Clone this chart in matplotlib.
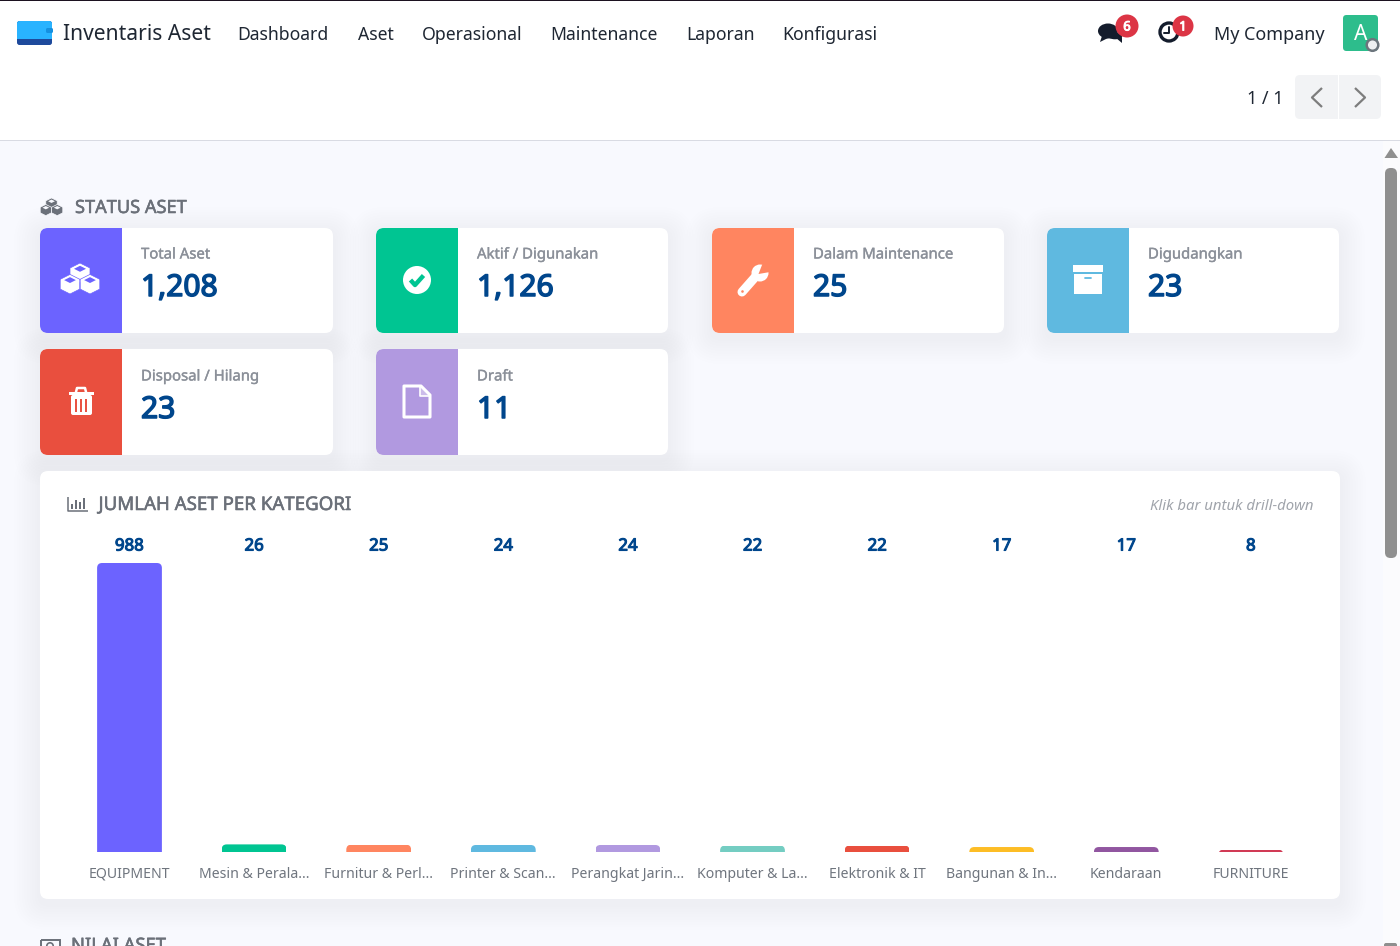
import numpy as np
import matplotlib
matplotlib.use("Agg")
import matplotlib.pyplot as plt
import matplotlib.patheffects as pe
from matplotlib.patches import FancyBboxPatch, Rectangle, Circle, Polygon, Ellipse
from matplotlib.transforms import IdentityTransform

plt.rcParams['font.family'] = ['Noto Sans', 'DejaVu Sans']

# data
nav_items = ["Dashboard", "Aset", "Operasional", "Maintenance", "Laporan", "Konfigurasi"]
card_labels = ["Total Aset", "Aktif / Digunakan", "Dalam Maintenance", "Digudangkan",
               "Disposal / Hilang", "Draft"]
card_values = ["1,208", "1,126", "25", "23", "23", "11"]
card_colors = ["#6c63ff", "#00c592", "#ff8560", "#5fb9e0", "#e94f3e", "#b199e0"]
categories = ["EQUIPMENT", "Mesin & Perala...", "Furnitur & Perl...", "Printer & Scan...",
              "Perangkat Jarin...", "Komputer & La...", "Elektronik & IT", "Bangunan & In...",
              "Kendaraan", "FURNITURE"]
counts = [988, 26, 25, 24, 24, 22, 22, 17, 17, 8]
bar_colors = ["#6c63ff", "#00c592", "#ff8560", "#5fb9e0", "#b199e0",
              "#74cdc2", "#e94f3e", "#fdbd25", "#9156a0", "#d13a55"]

PAGE = "#f8f9fe"
NAVY = "#00468c"
LABEL = "#8b9099"
TITLE = "#6b7079"
DARK = "#1f2733"


def px(size):
    return size * 0.72


def heavy(color, w=0.9):
    # the sans here has no bold face, so thicken with a stroke
    return [pe.withStroke(linewidth=w, foreground=color)]


fig = plt.figure(figsize=(14, 9.46), dpi=100, facecolor=PAGE)
ui = fig.add_axes([0, 0, 1, 1], zorder=0)
ui.set_xlim(0, 1400)
ui.set_ylim(946, 0)
ui.axis("off")


def rbox(x, y, w, h, r, color, z=2, **kw):
    p = FancyBboxPatch((x, y), w, h, boxstyle=f"round,pad=0,rounding_size={r}",
                       fc=color, ec="none", zorder=z, **kw)
    ui.add_patch(p)
    return p


def card_shadow(x, y, w, h):
    # soft shadow as layered boxes
    for i in range(10, 0, -1):
        g = i * 2.6
        rbox(x - g, y + 5 - g, w + 2 * g, h + 2 * g, 8 + g, "#4a58d8", z=1, alpha=0.0038)


def poly(pts, color, z=4, **kw):
    ui.add_patch(Polygon(pts, closed=True, fc=color, ec="none", zorder=z, **kw))


def line(xs, ys, color, lw=1.5, z=4, cap="round"):
    ui.plot(xs, ys, color=color, lw=lw, solid_capstyle=cap, solid_joinstyle="round", zorder=z)


def cube(cx, cy, s, fg, bg, z):
    ui.add_patch(Polygon([(cx, cy - s), (cx + s, cy - s * .5), (cx + s, cy + s * .5), (cx, cy + s),
                          (cx - s, cy + s * .5), (cx - s, cy - s * .5)], closed=True,
                         fc=fg, ec=bg, lw=.5, zorder=z))
    k = .6
    poly([(cx, cy - s * .72), (cx + s * k, cy - s * .42), (cx, cy - s * .12), (cx - s * k, cy - s * .42)],
         bg, z=z)


def cubes(cx, cy, s, fg, bg):
    cube(cx, cy - s * .5, s, fg, bg, 4)
    cube(cx - s, cy + s * .62, s * .98, fg, bg, 5)
    cube(cx + s, cy + s * .62, s * .98, fg, bg, 6)


# nav bar
ui.add_patch(Rectangle((0, 0), 1400, 140, fc="white", ec="none", zorder=1))
ui.add_patch(Rectangle((0, 0), 1400, 1.5, fc="#1c1220", ec="none", zorder=2))
ui.add_patch(Rectangle((0, 140), 1400, 1, fc="#d9dbe3", ec="none", zorder=2))

rbox(17, 21, 35, 24, 2.5, "#1e4a9c")
rbox(17, 21, 35, 18, 2.5, "#29b3ff", z=3)
ui.add_patch(Rectangle((17, 36), 35, 3, fc="#29b3ff", ec="none", zorder=3))
rbox(46, 28, 7, 5, 1.5, "#1590e0", z=4)

ui.text(63, 35, "Inventaris Aset", fontsize=px(21), color=DARK, va="center", zorder=5)
for x, label in zip([237.5, 357.5, 422, 550.5, 686.5, 782.5], nav_items):
    ui.text(x, 35.5, label, fontsize=px(17.6), color=DARK, va="center", zorder=5)

# chat icon
ui.add_patch(Ellipse((1108, 31), 20, 15, fc="#141c2c", ec="none", zorder=4))
poly([(1102, 36), (1100, 42), (1108, 38)], "#141c2c")
ui.add_patch(Ellipse((1115, 36), 16, 8, fc="#141c2c", ec="white", lw=1, zorder=3))
poly([(1116, 38), (1122, 43), (1122, 37)], "#141c2c", z=3)
# clock icon
ui.add_patch(Circle((1169, 32), 9, fc="white", ec="#141c2c", lw=2.4, zorder=4))
line([1169, 1169, 1164], [27, 33, 33], "#141c2c", lw=1.4, z=5)
# badges
for cx, r, txt in [(1127, 11.5, "6"), (1183, 10.5, "1")]:
    ui.add_patch(Circle((cx, 26), r, fc="#dc3545", ec="none", zorder=6))
    ui.text(cx, 27, txt, color="white", fontsize=px(13), ha="center", va="center", zorder=7,
            path_effects=heavy("white", 0.7))
ui.text(1214, 35.5, "My Company", fontsize=px(18), color=DARK, va="center", zorder=5)
rbox(1343, 15, 35, 36, 3.5, "#2dbd8c", z=3)
ui.text(1360.5, 35, "A", color="white", fontsize=px(21), ha="center", va="center", zorder=4)
ui.add_patch(Circle((1372.5, 45), 5.8, fc="#eef0f2", ec="#6c757d", lw=1.8, zorder=5))

# pager
ui.text(1265.5, 99.5, "1 / 1", fontsize=px(18), color=DARK, ha="center", va="center", zorder=5)
rbox(1295, 75, 86, 44, 5, "#f2f3f5", z=3)
ui.add_patch(Rectangle((1338, 75), 1.3, 44, fc="white", ec="none", zorder=4))
line([1322, 1312, 1322], [88, 97.5, 107], "#7d7d7d", lw=1.6, cap="butt")
line([1355, 1365, 1355], [88, 97.5, 107], "#7d7d7d", lw=1.6, cap="butt")

# scrollbar
ui.add_patch(Rectangle((1383, 141), 17, 805, fc="#fbfbfd", ec="none", zorder=1))
poly([(1384.5, 158), (1391, 148), (1398, 158)], "#8f8f8f")
rbox(1385, 168, 12, 390, 5.5, "#8f8f8f", z=3)
rbox(1384, 943, 13, 8, 2, "#8f8f8f", z=3)

# section heading
cubes(51.5, 206.5, 5.7, "#6b7079", PAGE)
ui.text(75, 208, "STATUS ASET", fontsize=px(18.2), color=TITLE, va="center", zorder=5,
        path_effects=heavy(TITLE, 0.4))

# cards
card_x = [40, 376, 712, 1047, 40, 376]
card_y = [228, 228, 228, 228, 349, 349]
card_w = [293, 292, 292, 292, 293, 292]
card_h = [105, 105, 105, 105, 106, 106]
for x, y, w, h in zip(card_x, card_y, card_w, card_h):
    card_shadow(x, y, w, h)
for x, y, w, h, col, lab, val in zip(card_x, card_y, card_w, card_h, card_colors, card_labels, card_values):
    rbox(x, y, w, h, 8, "white", z=2)
    p = rbox(x, y, 100, h, 8, col, z=3)
    p.set_clip_path(Rectangle((x, y), 82, h, transform=ui.transData))
    ui.text(x + 101, y + 27 + (h - 105), lab, fontsize=px(14.9), color=LABEL, va="center", zorder=5,
            path_effects=heavy(LABEL, 0.25))
    ui.text(x + 101, y + 60 + (h - 105), val, fontsize=px(30), color=NAVY, va="center", zorder=5,
            path_effects=heavy(NAVY, 1.1))

# card icons
W = "white"
cubes(80, 278, 10, W, card_colors[0])

ui.add_patch(Circle((417, 280), 14, fc=W, ec="none", zorder=4))
line([410.5, 415, 423.5], [280, 285, 275.5], card_colors[1], lw=3.2, z=5, cap="butt")

line([742, 757], [292, 275], W, lw=6.5)
ui.add_patch(Circle((760, 273), 8.5, fc=W, ec="none", zorder=4))
poly([(758.5, 274), (762, 265), (771, 263), (770, 272)], card_colors[2], z=5)
ui.add_patch(Circle((742.5, 291.5), 1.3, fc=card_colors[2], ec="none", zorder=5))

ui.add_patch(Rectangle((1073, 265), 30, 7, fc=W, ec="none", zorder=4))
ui.add_patch(Rectangle((1074, 274), 28, 19.5, fc=W, ec="none", zorder=4))
line([1085, 1091], [278, 278], card_colors[3], lw=1.3, z=5)

ui.add_patch(Rectangle((69, 392), 25, 3, fc=W, ec="none", zorder=4))
line([76, 77, 85, 86], [392, 388, 388, 392], W, lw=1.8)
rbox(71, 395, 21, 20, 2, W, z=4)
for lx in [76, 81, 86]:
    line([lx, lx], [398.5, 412], card_colors[4], lw=1.4, z=5, cap="butt")

ui.add_patch(Polygon([(404, 386), (421, 386), (430, 395), (430, 417), (404, 417)], closed=True,
                     fc="none", ec=W, lw=2.2, joinstyle="round", zorder=4))
poly([(420, 387), (420, 396), (429, 396)], W, z=4, alpha=.35)
line([420, 420, 430], [386, 396, 396], W, lw=1.2)

# chart panel
card_shadow(40, 471, 1300, 428)
rbox(40, 471, 1300, 428, 8, "white", z=2)
# bar chart icon
line([67.5, 67.5, 87.5], [497, 510.5, 510.5], TITLE, lw=1.1, cap="butt")
for lx, top in zip([71, 75, 79, 83], [504, 500, 502, 498]):
    ui.add_patch(Rectangle((lx, top), 2.4, 509 - top, fc=TITLE, ec="none", zorder=4))
ui.text(98.5, 505, "JUMLAH ASET PER KATEGORI", fontsize=px(18.7), color=TITLE, va="center", zorder=5,
        path_effects=heavy(TITLE, 0.4))
ui.text(1313, 506, "Klik bar untuk drill-down", fontsize=px(14.9), color="#a0a4ab", style="italic",
        ha="right", va="center", zorder=5)

# bars
chart_left, chart_right, chart_top, chart_base = 67.2, 1313.2, 563, 852
ax = fig.add_axes([chart_left / 1400, 1 - chart_base / 946,
                   (chart_right - chart_left) / 1400, (chart_base - chart_top) / 946], zorder=2)
ax.patch.set_alpha(0)
ax.set_xlim(-0.5, len(counts) - 0.5)
ax.set_ylim(0, max(counts))
for s in ax.spines.values():
    s.set_visible(False)
bars = ax.bar(range(len(counts)), counts, width=0.52, color=bar_colors, linewidth=0)
ax.set_yticks([])
ax.set_xticks(range(len(counts)))
ax.set_xticklabels(categories, fontsize=px(14.1), color="#6f757e")
ax.tick_params(axis="x", length=0, pad=10.5)
for i, v in enumerate(counts):
    ax.text(i, 1.0 + 16.5 / (chart_base - chart_top), str(v), transform=ax.get_xaxis_transform(),
            ha="center", va="center", fontsize=px(16.8), color=NAVY, path_effects=heavy(NAVY, 0.8))

# rounded top corners, clipped in pixel space
for rect in bars:
    (x0, y0), (x1, y1) = ax.transData.transform([(rect.get_x(), 0),
                                                 (rect.get_x() + rect.get_width(), rect.get_height())])
    clip = FancyBboxPatch((x0, y0 - 10), x1 - x0, y1 - y0 + 10,
                          boxstyle="round,pad=0,rounding_size=5", transform=IdentityTransform())
    rect.set_clip_path(clip)

# next section, cut off by the window
ui.add_patch(Rectangle((40.5, 939.5), 19, 12, fc="none", ec=TITLE, lw=1.4, zorder=4))
ui.add_patch(Circle((50, 946), 3.2, fc="none", ec=TITLE, lw=1.2, zorder=4))
ui.text(71, 951, "NILAI ASET", fontsize=px(18.4), color=TITLE, va="baseline", zorder=5,
        path_effects=heavy(TITLE, 0.4))

fig.savefig("out.png", dpi=100, facecolor=fig.get_facecolor())
